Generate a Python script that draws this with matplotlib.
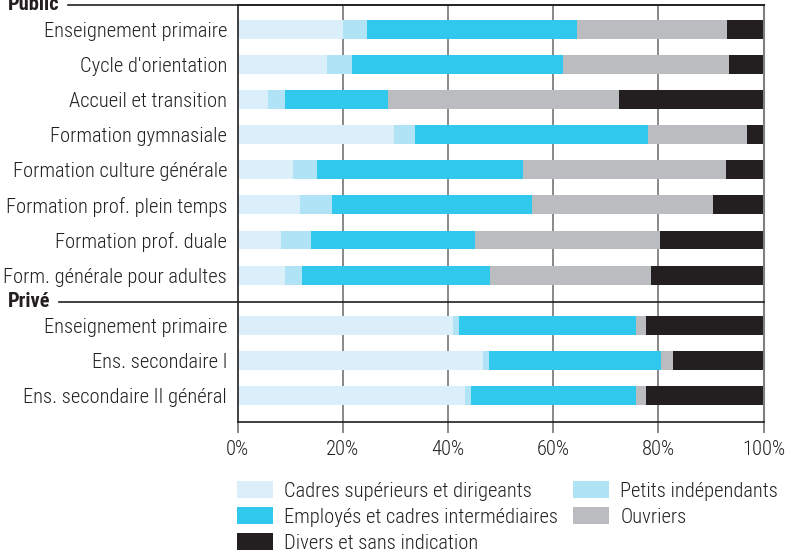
import numpy as np
import matplotlib
matplotlib.use("Agg")
import matplotlib.pyplot as plt
from matplotlib.lines import Line2D
import matplotlib.transforms as mtransforms

plt.rcParams['font.family'] = ['Roboto Condensed', 'Liberation Sans', 'DejaVu Sans']
plt.rcParams['font.weight'] = 'light'

# ---------------- data ----------------
groups = ["Public", "Privé"]
categories_public = ["Enseignement primaire", "Cycle d'orientation", "Accueil et transition",
                     "Formation gymnasiale", "Formation culture générale",
                     "Formation prof. plein temps", "Formation prof. duale",
                     "Form. générale pour adultes"]
categories_prive = ["Enseignement primaire", "Ens. secondaire I", "Ens. secondaire II général"]

series_names = ["Cadres supérieurs et dirigeants", "Petits indépendants",
                "Employés et cadres intermédiaires", "Ouvriers", "Divers et sans indication"]
cadres   = [20.0, 17.0, 5.8, 29.7, 10.5, 11.8, 8.2, 9.1, 40.9, 46.6, 43.2]
petits   = [4.6, 4.7, 3.2, 4.0, 4.7, 6.1, 5.7, 3.1, 1.1, 1.2, 1.1]
employes = [39.9, 40.1, 19.6, 44.4, 39.0, 38.1, 31.2, 35.8, 33.7, 32.6, 31.4]
ouvriers = [28.6, 31.6, 43.9, 18.7, 38.6, 34.3, 35.1, 30.6, 1.9, 2.3, 1.9]
divers   = [6.9, 6.6, 27.5, 3.2, 7.2, 9.7, 19.8, 21.4, 22.4, 17.3, 22.4]
x_ticks = [0, 20, 40, 60, 80, 100]
x_tick_labels = ["0%", "20%", "40%", "60%", "80%", "100%"]

colors = ["#daeff9", "#b0e3f5", "#31c8ed", "#bbbcc0", "#231f20"]
DARK = "#231f20"
GRID = "#7f7f7f"

fig = plt.figure(figsize=(7.88, 5.5), dpi=100)
renderer = fig.canvas.get_renderer()

# font size so the widest label is ~219 px wide like the reference
probe = fig.text(0, 0, "Formation prof. plein temps", fontsize=13)
w13 = probe.get_window_extent(renderer=renderer).width
probe.remove()
FS = min(15, 13 * 219.0 / w13)

# ---------------- layout ----------------
ax = fig.add_axes([237.5 / 788, 1 - 421.7 / 550, (763.7 - 237.5) / 788, (421.7 - 5) / 550])

pub_pos = np.arange(len(categories_public), dtype=float)
priv_line = pub_pos[-1] + 0.755
priv_pos = pub_pos[-1] + 1.43 + np.arange(len(categories_prive), dtype=float)
positions = np.concatenate([pub_pos, priv_pos])
labels = categories_public + categories_prive
top = -0.70
bottom = priv_pos[-1] + 0.75

series = [cadres, petits, employes, ouvriers, divers]
left = np.zeros(len(positions))
for vals, col, name in zip(series, colors, series_names):
    vals = np.asarray(vals)
    ax.barh(positions, vals, left=left, height=0.54, color=col, edgecolor='none',
            label=name, zorder=2)
    left += vals

ax.set_xlim(0, 100)
ax.set_ylim(bottom, top)

for xv in x_ticks[1:-1]:
    ax.axvline(xv, color=GRID, lw=1.3, zorder=1)

ax.set_xticks(x_ticks)
ax.set_xticklabels(x_tick_labels)
ax.set_yticks(positions)
ax.set_yticklabels(labels)
ax.tick_params(axis='y', length=0, pad=7.5, labelsize=FS, labelcolor=DARK)
ax.tick_params(axis='x', length=8, width=1.3, color=GRID, direction='out', pad=5.5,
               labelsize=FS, labelcolor=DARK)

for side in ['left', 'bottom', 'top']:
    ax.spines[side].set_color(DARK)
    ax.spines[side].set_linewidth(1.2)
ax.spines['right'].set_color(GRID)
ax.spines['right'].set_linewidth(1.5)

blend = mtransforms.blended_transform_factory(fig.transFigure, ax.transData)
for name, ypos in zip(groups, [top, priv_line]):
    t = fig.text(8 / 788, ypos, name, transform=blend, ha='left', va='center',
                 fontsize=FS, fontweight='bold', color=DARK)
    bb = t.get_window_extent(renderer=renderer)
    x0 = (bb.x1 + 8) / fig.bbox.width
    fig.add_artist(Line2D([x0, 763.7 / 788], [ypos, ypos], transform=blend,
                          color=DARK, lw=1.2))

handles, lbls = ax.get_legend_handles_labels()
order = [0, 2, 4, 1, 3]
leg = fig.legend([handles[i] for i in order], [lbls[i] for i in order],
                 loc='upper left', bbox_to_anchor=(237 / 788, 1 - 481 / 550),
                 ncol=2, frameon=False, fontsize=FS, borderpad=0, borderaxespad=0,
                 handlelength=1.75, handleheight=0.9, handletextpad=0.55,
                 columnspacing=0.75, labelspacing=0.32, labelcolor=DARK)

fig.savefig("out.png", dpi=100)
